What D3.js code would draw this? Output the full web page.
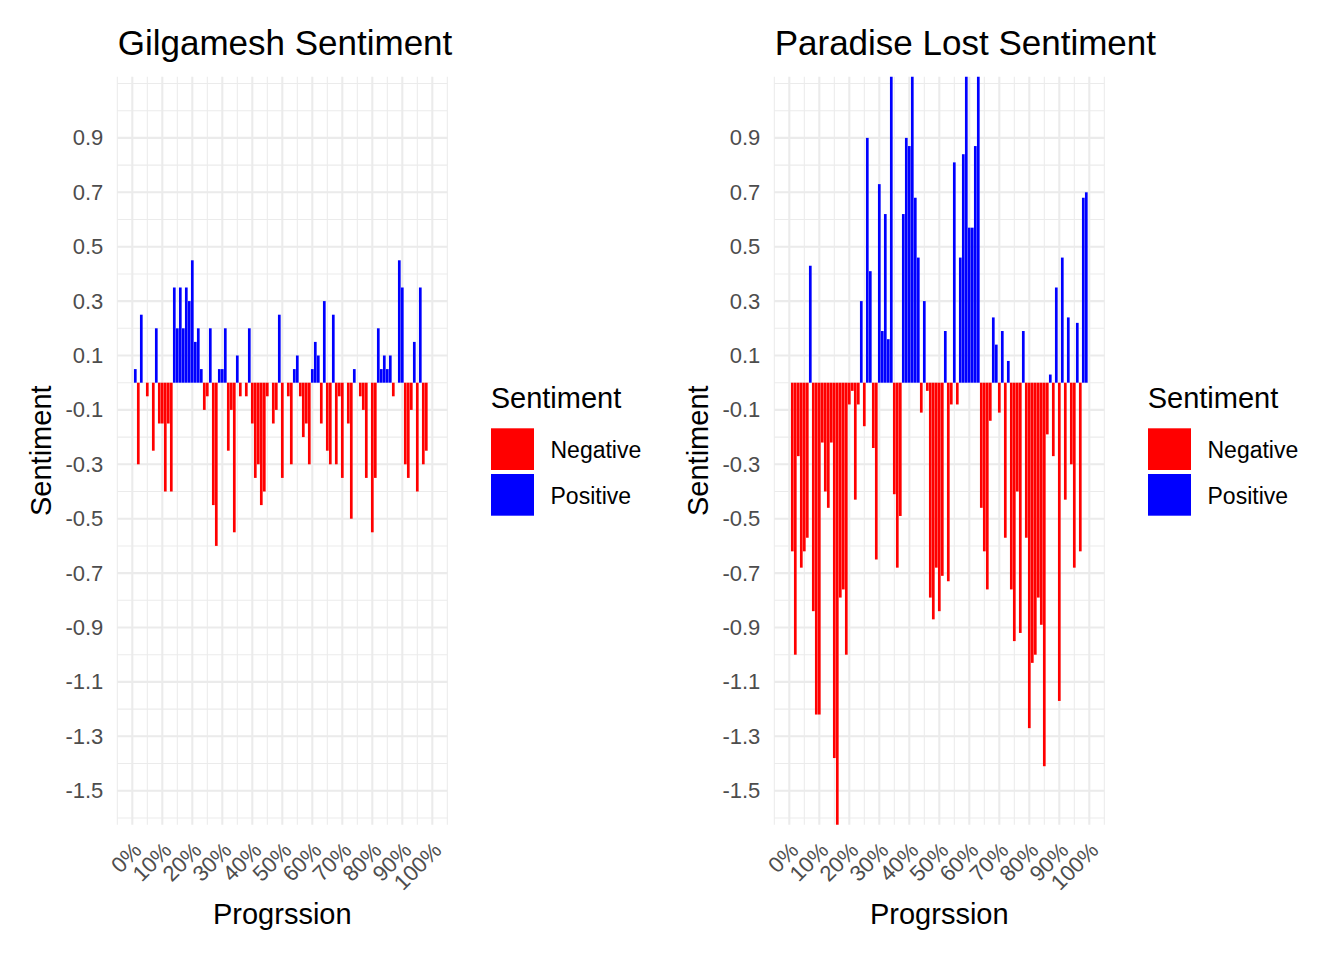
<!DOCTYPE html>
<html>
<head>
<meta charset="utf-8">
<script src="https://cdn.jsdelivr.net/npm/d3@7"></script>
<style>
  html, body { margin: 0; padding: 0; background: #fff; }
  svg text { font-family: "Liberation Sans", Arial, Helvetica, sans-serif; }
</style>
</head>
<body>
<svg id="chart" width="1344" height="960"></svg>
<script>
'use strict';

// progression of each chunk, in percent of the text
var progressionPct = [
    1, 2, 3, 4, 5, 6, 7, 8, 9, 10, 11, 12, 13, 14, 15, 16, 17, 18, 19, 20,
    21, 22, 23, 24, 25, 26, 27, 28, 29, 30, 31, 32, 33, 34, 35, 36, 37, 38, 39, 40,
    41, 42, 43, 44, 45, 46, 47, 48, 49, 50, 51, 52, 53, 54, 55, 56, 57, 58, 59, 60,
    61, 62, 63, 64, 65, 66, 67, 68, 69, 70, 71, 72, 73, 74, 75, 76, 77, 78, 79, 80,
    81, 82, 83, 84, 85, 86, 87, 88, 89, 90, 91, 92, 93, 94, 95, 96, 97, 98, 99
];

var gilgameshSentiment = [
    0.05, -0.30, 0.25, 0, -0.05, 0, -0.25, 0.20, -0.15, -0.15,
    -0.40, -0.15, -0.40, 0.35, 0.20, 0.35, 0.20, 0.35, 0.30, 0.45,
    0.15, 0.20, 0.05, -0.10, -0.05, 0.20, -0.45, -0.60, 0.05, 0.05,
    0.20, -0.25, -0.10, -0.55, 0.10, -0.05, 0, -0.05, 0.20, -0.15,
    -0.35, -0.30, -0.45, -0.40, -0.05, 0, -0.15, -0.10, 0.25, -0.35,
    0, -0.05, -0.30, 0.05, 0.10, -0.05, -0.20, -0.15, -0.30, 0.05,
    0.15, 0.10, -0.15, 0.30, -0.25, -0.30, 0.25, -0.30, -0.05, -0.35,
    0, -0.15, -0.50, 0.05, 0, -0.05, -0.10, -0.35, 0, -0.55,
    -0.35, 0.20, 0.05, 0.10, 0.05, 0.10, -0.05, 0, 0.45, 0.35,
    -0.30, -0.35, -0.10, 0.15, -0.40, 0.35, -0.30, -0.25
];

var paradiseSentiment = [
    -0.62, -1.00, -0.27, -0.68, -0.62, -0.57, 0.43, -0.84, -1.22, -1.22,
    -0.22, -0.40, -0.46, -0.22, -1.38, -1.65, -0.79, -0.76, -1.00, -0.08,
    -0.03, -0.43, -0.08, 0.30, -0.16, 0.90, 0.41, -0.24, -0.65, 0.73,
    0.19, 0.62, 0.16, 1.20, -0.41, -0.68, -0.49, 0.62, 0.90, 0.87,
    1.20, 0.68, 0.46, -0.11, 0.30, -0.03, -0.79, -0.87, -0.68, -0.84,
    -0.71, 0.19, -0.73, -0.08, 0.81, -0.08, 0.46, 0.84, 1.20, 0.57,
    0.57, 0.87, 1.20, -0.46, -0.62, -0.76, -0.14, 0.24, 0.14, -0.11,
    0.19, -0.57, 0.08, -0.76, -0.95, -0.40, -0.92, 0.19, -0.57, -1.27,
    -1.03, -1.00, -0.79, -0.89, -1.41, -0.19, 0.03, -0.27, 0.35, -1.17,
    0.46, -0.43, 0.24, -0.30, -0.68, 0.22, -0.62, 0.68, 0.70
];

var xBreaks = [0, 0.1, 0.2, 0.3, 0.4, 0.5, 0.6, 0.7, 0.8, 0.9, 1.0];
var xTickLabels = ['0%', '10%', '20%', '30%', '40%', '50%', '60%', '70%', '80%', '90%', '100%'];
var yBreaks = [-1.5, -1.3, -1.1, -0.9, -0.7, -0.5, -0.3, -0.1, 0.1, 0.3, 0.5, 0.7, 0.9];
var yTickLabels = ['-1.5', '-1.3', '-1.1', '-0.9', '-0.7', '-0.5', '-0.3', '-0.1', '0.1', '0.3', '0.5', '0.7', '0.9'];
var sentimentLevels = ['Negative', 'Positive'];
var sentimentColors = ['#FF0000', '#0000FF'];
var panelTitles = ['Gilgamesh Sentiment', 'Paradise Lost Sentiment'];

var panelTop = 76.7,
    panelBottom = 824.7,
    panelWidth = 330,
    gridColor = '#EBEBEB',
    fontFamily = '"Liberation Sans", Arial, Helvetica, sans-serif';

var svg = d3.select('#chart');
svg.append('rect').attr('width', 1344).attr('height', 960).attr('fill', '#fff');

var color = d3.scaleOrdinal().domain(sentimentLevels).range(sentimentColors);

function drawPanel(idx, left, values){
    var x = d3.scaleLinear().domain([-0.05, 1.05]).range([left, left + panelWidth]);
    var y = d3.scaleLinear().domain([-1.625, 1.125]).range([panelBottom, panelTop]);
    var g = svg.append('g');

    var xMinor = xBreaks.map(function (d) { return d - 0.05; }).concat([1.05]);
    var yMinor = d3.range(-16, 12).map(function (d) { return d / 10; });

    g.selectAll('line.xminor').data(xMinor).enter().append('line')
        .attr('x1', function (d) { return x(d); })
        .attr('x2', function (d) { return x(d); })
        .attr('y1', panelTop).attr('y2', panelBottom)
        .attr('stroke', gridColor).attr('stroke-width', 1.05);

    g.selectAll('line.yminor').data(yMinor).enter().append('line')
        .attr('x1', left).attr('x2', left + panelWidth)
        .attr('y1', function (d) { return y(d); })
        .attr('y2', function (d) { return y(d); })
        .attr('stroke', gridColor).attr('stroke-width', 1.05);

    g.selectAll('line.xmajor').data(xBreaks).enter().append('line')
        .attr('x1', function (d) { return x(d); })
        .attr('x2', function (d) { return x(d); })
        .attr('y1', panelTop).attr('y2', panelBottom)
        .attr('stroke', gridColor).attr('stroke-width', 2.1);

    g.selectAll('line.ymajor').data(yBreaks).enter().append('line')
        .attr('x1', left).attr('x2', left + panelWidth)
        .attr('y1', function (d) { return y(d); })
        .attr('y2', function (d) { return y(d); })
        .attr('stroke', gridColor).attr('stroke-width', 2.1);

    var clipId = 'clip' + idx;
    svg.append('clipPath').attr('id', clipId).append('rect')
        .attr('x', left).attr('y', panelTop)
        .attr('width', panelWidth).attr('height', panelBottom - panelTop);

    var rows = values.map(function (v, i) {
        return { x: progressionPct[i] / 100, val: v, key: v < 0 ? 'Negative' : 'Positive' };
    }).filter(function (d) { return d.val !== 0; });

    var barW = x(0.009) - x(0);
    g.append('g').attr('clip-path', 'url(#' + clipId + ')')
        .selectAll('rect').data(rows).enter().append('rect')
        .attr('x', function (d) { return x(d.x) - barW / 2; })
        .attr('width', barW)
        .attr('y', function (d) { return y(Math.max(0, d.val)); })
        .attr('height', function (d) { return Math.abs(y(d.val) - y(0)); })
        .attr('fill', function (d) { return color(d.key); });

    var yAxis = d3.axisLeft(y)
        .tickValues(yBreaks)
        .tickFormat(function (d, i) { return yTickLabels[i]; })
        .tickSize(0)
        .tickPadding(14);

    g.append('g')
        .attr('transform', 'translate(' + left + ',0)')
        .call(yAxis)
        .attr('font-size', 22)
        .attr('font-family', fontFamily)
        .call(function (a) {
            a.select('.domain').remove();
            a.selectAll('text').attr('fill', '#4D4D4D');
        });

    var xAxis = d3.axisBottom(x)
        .tickValues(xBreaks)
        .tickFormat(function (d, i) { return xTickLabels[i]; })
        .tickSize(0);

    g.append('g')
        .attr('transform', 'translate(0,' + panelBottom + ')')
        .call(xAxis)
        .attr('font-size', 22)
        .attr('font-family', fontFamily)
        .call(function (a) {
            a.select('.domain').remove();
            a.selectAll('text')
                .attr('fill', '#4D4D4D')
                .attr('text-anchor', 'end')
                .attr('x', 0).attr('y', 0).attr('dy', null)
                .attr('transform', 'translate(10,27) rotate(-45)');
        });

    // titles
    g.append('text')
        .attr('x', left + 0.4).attr('y', 55)
        .attr('font-size', 35).attr('fill', '#000')
        .text(panelTitles[idx]);

    g.append('text')
        .attr('transform', 'translate(' + (left - 66.3) + ',' + ((panelTop + panelBottom) / 2) + ') rotate(-90)')
        .attr('text-anchor', 'middle')
        .attr('font-size', 29).attr('fill', '#000')
        .text('Sentiment');

    g.append('text')
        .attr('x', left + panelWidth / 2).attr('y', 924)
        .attr('text-anchor', 'middle')
        .attr('font-size', 29).attr('fill', '#000')
        .text('Progrssion');

    // legend
    var lg = g.append('g').attr('transform', 'translate(' + (left + 373.4) + ',0)');
    lg.append('text')
        .attr('x', 0).attr('y', 408.3)
        .attr('font-size', 29).attr('fill', '#000')
        .text('Sentiment');

    var item = lg.selectAll('g.item').data(sentimentLevels).enter().append('g')
        .attr('transform', function (d, i) { return 'translate(0,' + (428.3 + i * 45.7) + ')'; });
    item.append('rect')
        .attr('x', 0.3).attr('y', 0)
        .attr('width', 43).attr('height', 41.7)
        .attr('fill', function (d) { return color(d); });
    item.append('text')
        .attr('x', 59.8).attr('y', 30)
        .attr('font-size', 23).attr('fill', '#000')
        .text(function (d) { return d; });
}

drawPanel(0, 117.3, gilgameshSentiment);
drawPanel(1, 774.3, paradiseSentiment);
</script>
</body>
</html>
